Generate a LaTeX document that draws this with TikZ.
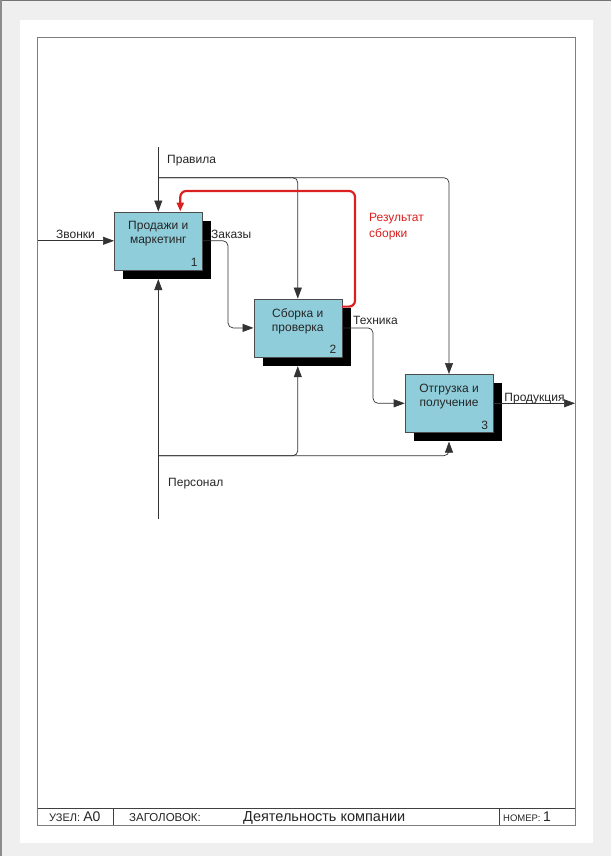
\documentclass[tikz,border=0pt]{standalone}
\usepackage{fontspec}
\setmainfont{Liberation Sans}
\usetikzlibrary{arrows.meta,shadows}
\definecolor{boxblue}{RGB}{143,205,219}
\definecolor{fbred}{RGB}{218,32,32}
\definecolor{pagegrey}{RGB}{239,239,239}
\definecolor{framegrey}{RGB}{125,125,125}
\tikzset{every node/.style={inner sep=0pt, text=black!85},
  func/.style={draw=black!70, line width=0.6pt, fill=boxblue, minimum width=88pt, minimum height=58pt,
    drop shadow={shadow xshift=9pt, shadow yshift=-9pt, fill=black, opacity=1}},
  flow/.style={black!80, line width=0.7pt, rounded corners=5pt, -{Triangle[length=11pt,width=8pt]}},
  back/.style={fbred, line width=2.2pt, rounded corners=6pt, -{Triangle[length=9pt,width=7pt]}},
  lbl/.style={font=\fontsize{12}{14}\selectfont},
  boxtxt/.style={font=\fontsize{12}{14}\selectfont, align=center, anchor=north},
  boxnum/.style={font=\fontsize{12}{14}\selectfont, anchor=base east}}

\begin{document}
\begin{tikzpicture}[x=1pt,y=-1pt]
   \useasboundingbox (0,0) rectangle (611,856);
   % sheet
   \fill[pagegrey] (0,0) rectangle (611,856);
   \fill[white] (20,20) rectangle (593,843);
   \fill[black!55] (0,0) rectangle (611,1.2);
   \fill[black!45] (0,0) rectangle (1.5,856);
   \draw[framegrey, line width=1pt] (37.7,38) rectangle (575,825);
   \draw[black!75, line width=0.8pt] (37.7,808) -- (575,808);
   \draw[black!75, line width=0.8pt] (113,808) -- (113,825);
   \draw[black!75, line width=0.8pt] (499,808) -- (499,825);

   % title block
   \node[anchor=base west, font=\fontsize{11}{13}\selectfont] (nodekey) at (49,821)
     {УЗЕЛ: {\fontsize{14}{16}\selectfont A0}};
   \node[anchor=base west, font=\fontsize{11.5}{13}\selectfont] (titlekey) at (129,821) {ЗАГОЛОВОК:};
   \node[anchor=base west, font=\fontsize{14.5}{16}\selectfont] (title) at (243,821) {Деятельность компании};
   \node[anchor=base west, font=\fontsize{9.5}{11}\selectfont] (numkey) at (503,821)
     {НОМЕР: {\fontsize{14}{16}\selectfont 1}};

   % functions
   \node[func] (p1) at (158.3,240.8) {};
   \node[func] (p2) at (297.8,327.9) {};
   \node[func] (p3) at (449,403.3) {};
   \node[boxtxt] (p1txt) at ([yshift=-9.5pt]p1.north) {Продажи и\\маркетинг};
   \node[boxtxt] (p2txt) at ([yshift=-10pt]p2.north) {Сборка и\\проверка};
   \node[boxtxt] (p3txt) at ([yshift=-10pt]p3.north) {Отгрузка и\\получение};
   \node[boxnum] (p1num) at ([xshift=-4.8pt,yshift=3.2pt]p1.south east) {1};
   \node[boxnum] (p2num) at ([xshift=-5.5pt,yshift=3.3pt]p2.south east) {2};
   \node[boxnum] (p3num) at ([xshift=-5pt,yshift=3.3pt]p3.south east) {3};

   % free ends
   \coordinate (calls) at (37.7,240.8);
   \coordinate (rules) at (158.3,147);
   \coordinate (rulesbus) at (158.3,177.7);
   \coordinate (staff) at (158.3,519);
   \coordinate (staffbus) at (158.3,455.7);
   \coordinate (out) at (575,403.3);
   \coordinate (ordersbend) at (228,290);
   \coordinate (techbend) at (373,365);
   \coordinate (backtop) at (355,191);

   % inputs and outputs
   \draw[flow] (calls) -- (p1.west);
   \draw[flow] (p1.east) -| (ordersbend) |- (p2.west);
   \draw[flow] (p2.east) -| (techbend) |- (p3.west);
   \draw[flow] (p3.east) -- (out);
   % controls
   \draw[flow] (rules) -- (p1.north);
   \draw[flow] (rulesbus) -| (p2.north);
   \draw[flow] (rulesbus) -| (p3.north);
   % mechanisms
   \draw[flow] (staff) -- ([yshift=-9pt]p1.south);
   \draw[flow] (staffbus) -| ([yshift=-9pt]p2.south);
   \draw[flow] (staffbus) -| ([yshift=-9pt]p3.south);
   % feedback
   \draw[back] ([yshift=-8pt]p2.north east) -| (backtop) -| ([xshift=22pt]p1.north);

   % labels
   \node[lbl, anchor=base] (callslbl) at (75.5,238.5) {Звонки};
   \node[lbl, anchor=base west] (ruleslbl) at (167,163.3) {Правила};
   \node[lbl, anchor=base west] (orderslbl) at (211,238.5) {Заказы};
   \node[lbl, anchor=base west] (techlbl) at (353,324.3) {Техника};
   \node[lbl, anchor=base] (prodlbl) at (534.5,401) {Продукция};
   \node[lbl, anchor=base west] (stafflbl) at (168,486) {Персонал};
   \node[lbl, anchor=base west, text=fbred, align=left, font=\fontsize{12}{15.3}\selectfont]
     (resultlbl) at (369,237) {Результат\\сборки};
\end{tikzpicture}
\end{document}
